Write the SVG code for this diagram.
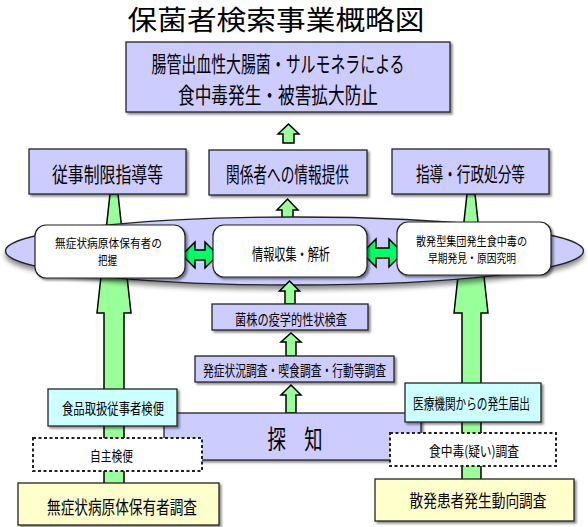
<svg xmlns="http://www.w3.org/2000/svg" width="588" height="527" viewBox="0 0 588 527">
<defs>
<filter id="sh" x="-10%" y="-10%" width="130%" height="140%">
<feDropShadow dx="2" dy="2" stdDeviation="1.2" flood-color="#000" flood-opacity="0.45"/>
</filter>
<filter id="esh" x="-5%" y="-20%" width="110%" height="160%">
<feDropShadow dx="0" dy="4" stdDeviation="2.5" flood-color="#000" flood-opacity="0.45"/>
</filter>
</defs>
<style>
text{font-family:"Noto Sans CJK JP","Noto Sans CJK SC",sans-serif;fill:#000;text-anchor:middle;dominant-baseline:central}
.pur{fill:#ccccff;stroke:#222;stroke-width:1.3}
.cy{fill:#ccffff;stroke:#222;stroke-width:1.3}
.yl{fill:#ffffcc;stroke:#222;stroke-width:1.3}
.wt{fill:#fff;stroke:#222;stroke-width:1.2}
.dash{fill:#fff;stroke:#222;stroke-width:2;stroke-dasharray:3 2.5}
.ga{fill:#99ff99;stroke:#000;stroke-width:1.5;stroke-linejoin:miter}
.da{fill:#00ff66;stroke:#000;stroke-width:1.5}
</style>

<text x="276" y="18" font-size="27" textLength="297" lengthAdjust="spacingAndGlyphs">保菌者検索事業概略図</text>

<g id="connectors">
<polygon class="ga" points="110,194 118,194 131,313 124,313 124,485 104,485 104,313 97,313"/>
<polygon class="ga" points="467,194 475,194 488,313 481,313 481,481 462,481 462,313 454,313"/>
<polygon class="ga" points="288.5,124 299,134 294,134 294,143 283,143 283,134 278,134"/>
<polygon class="ga" points="287.5,199 298,210 293,210 293,225 282,225 282,210 277,210"/>
</g>

<g id="ellipse">
<ellipse cx="294.5" cy="251" rx="289" ry="34" class="pur" filter="url(#esh)"/>
</g>

<g id="connectors2">
<polygon class="ga" points="289.5,281 299.5,291 295,291 295,304 285,304 285,291 279.5,291"/>
<polygon class="ga" points="291,333 301,342 296,342 296,356 286,356 286,342 281,342"/>
<polygon class="ga" points="291,385 301,395 296,395 296,413 286,413 286,395 281,395"/>
<polygon class="da" points="182,255 195,242 195,250 205,250 205,242 218,255 205,268 205,260 195,260 195,268"/>
<polygon class="da" points="362,253 376,239 376,248 389,248 389,239 403,253 389,267 389,258 376,258 376,267"/>
</g>

<g id="goal">
<rect x="126" y="42" width="324" height="70" class="pur" filter="url(#sh)"/>
<text x="278" y="62" font-size="22" textLength="253" lengthAdjust="spacingAndGlyphs">腸管出血性大腸菌・サルモネラによる</text>
<text x="278" y="93" font-size="22" textLength="200" lengthAdjust="spacingAndGlyphs">食中毒発生・被害拡大防止</text>
</g>

<g id="restrict">
<rect x="29" y="149" width="157" height="45" class="pur" filter="url(#sh)"/>
<text x="107.5" y="173" font-size="21" textLength="111" lengthAdjust="spacingAndGlyphs">従事制限指導等</text>
</g>
<g id="inform">
<rect x="209" y="150" width="158" height="45" class="pur" filter="url(#sh)"/>
<text x="287.5" y="173" font-size="21" textLength="123" lengthAdjust="spacingAndGlyphs">関係者への情報提供</text>
</g>
<g id="admin">
<rect x="392" y="149" width="157" height="45" class="pur" filter="url(#sh)"/>
<text x="470.5" y="173" font-size="20" textLength="109" lengthAdjust="spacingAndGlyphs">指導・行政処分等</text>
</g>

<g id="grasp">
<rect x="35" y="225" width="150" height="53" rx="11" class="wt" filter="url(#sh)"/>
<text x="108.5" y="242" font-size="12" textLength="107" lengthAdjust="spacingAndGlyphs">無症状病原体保有者の</text>
<text x="107.5" y="259" font-size="12" textLength="19" lengthAdjust="spacingAndGlyphs">把握</text>
</g>
<g id="analysis">
<rect x="213" y="225" width="154" height="52" rx="11" class="wt" filter="url(#sh)"/>
<text x="291" y="253" font-size="16" textLength="78" lengthAdjust="spacingAndGlyphs">情報収集・解析</text>
</g>
<g id="early">
<rect x="397" y="222" width="154" height="53" rx="11" class="wt" filter="url(#sh)"/>
<text x="471.5" y="240" font-size="12" textLength="111" lengthAdjust="spacingAndGlyphs">散発型集団発生食中毒の</text>
<text x="472" y="257" font-size="12" textLength="88" lengthAdjust="spacingAndGlyphs">早期発見・原因究明</text>
</g>

<g id="strain">
<rect x="212" y="304" width="156" height="26" class="pur" filter="url(#sh)"/>
<text x="291" y="318" font-size="15" textLength="112" lengthAdjust="spacingAndGlyphs">菌株の疫学的性状検査</text>
</g>
<g id="survey">
<rect x="195" y="356" width="199" height="26" class="pur" filter="url(#sh)"/>
<text x="294.5" y="369" font-size="15" textLength="183" lengthAdjust="spacingAndGlyphs">発症状況調査・喫食調査・行動等調査</text>
</g>

<g id="detect">
<rect x="164" y="413" width="257" height="47" class="pur" stroke-width="1.5" filter="url(#sh)"/>
<text x="295" y="437" font-size="26" textLength="55" lengthAdjust="spacingAndGlyphs">探　知</text>
</g>

<g id="food-staff">
<rect x="48" y="389" width="129" height="37" class="cy" filter="url(#sh)"/>
<text x="113" y="407" font-size="15" textLength="102" lengthAdjust="spacingAndGlyphs">食品取扱従事者検便</text>
</g>
<g id="medical">
<rect x="405" y="383" width="136" height="39" class="cy" filter="url(#sh)"/>
<text x="471.5" y="402" font-size="15" textLength="117" lengthAdjust="spacingAndGlyphs">医療機関からの発生届出</text>
</g>

<g id="self-test">
<rect x="33" y="438" width="169" height="33" class="dash"/>
<text x="111.5" y="455" font-size="14" textLength="43" lengthAdjust="spacingAndGlyphs">自主検便</text>
</g>
<g id="poison-survey">
<rect x="390" y="433" width="166" height="33" class="dash"/>
<text x="474" y="450" font-size="14" textLength="90" lengthAdjust="spacingAndGlyphs">食中毒(疑い)調査</text>
</g>

<g id="carrier-survey">
<rect x="18" y="483" width="201" height="42" class="yl" filter="url(#sh)"/>
<text x="122" y="506" font-size="18" textLength="150" lengthAdjust="spacingAndGlyphs">無症状病原体保有者調査</text>
</g>
<g id="sporadic-survey">
<rect x="375" y="479" width="199" height="42" class="yl" filter="url(#sh)"/>
<text x="478" y="500" font-size="16.5" textLength="137" lengthAdjust="spacingAndGlyphs">散発患者発生動向調査</text>
</g>
</svg>
